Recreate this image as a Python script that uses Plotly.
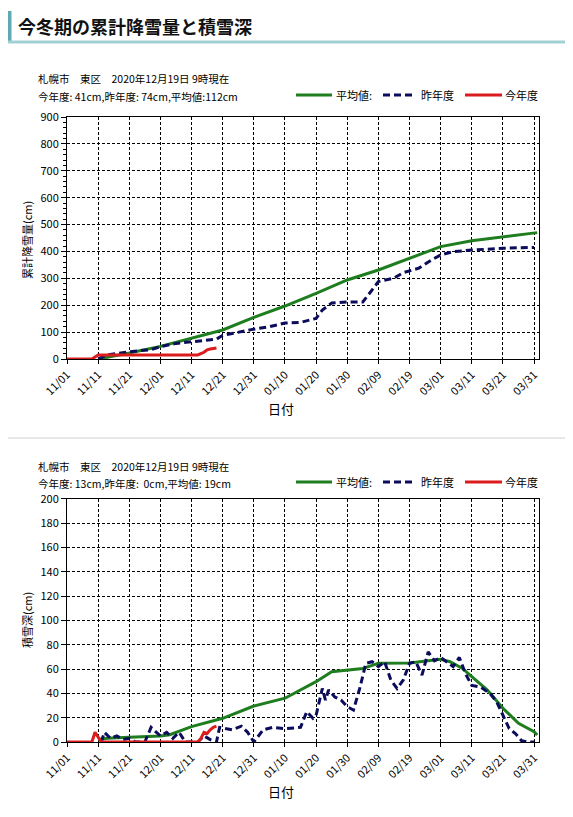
import plotly.graph_objects as go

W, H = 573, 817
OFF = 8  # ページ本体の余白ぶんを補正
FONT = "Noto Sans CJK JP"

# 累計降雪量 (cm)
avg_snowfall_dates = ["2020-11-11", "2020-11-21", "2020-12-01", "2020-12-11", "2020-12-21",
                      "2020-12-31", "2021-01-10", "2021-01-20", "2021-01-30", "2021-02-09",
                      "2021-02-19", "2021-03-01", "2021-03-11", "2021-03-21", "2021-03-31",
                      "2021-04-01"]
avg_snowfall = [0, 22, 47, 78, 108, 155, 197, 244, 294, 331, 375, 418, 440, 455, 470, 470]

last_snowfall_dates = ["2020-11-11", "2020-11-14", "2020-11-21", "2020-11-28", "2020-12-01",
                       "2020-12-06", "2020-12-11", "2020-12-16", "2020-12-19", "2020-12-21",
                       "2020-12-26", "2020-12-31", "2021-01-05", "2021-01-10", "2021-01-15",
                       "2021-01-20", "2021-01-22", "2021-01-25", "2021-01-30", "2021-02-04",
                       "2021-02-07", "2021-02-09", "2021-02-14", "2021-02-17", "2021-02-22",
                       "2021-02-26", "2021-03-01", "2021-03-05", "2021-03-11", "2021-03-21",
                       "2021-03-31"]
last_snowfall = [0, 15, 27, 35, 46, 58, 64, 70, 74, 88, 100, 111, 120, 134, 136, 151, 182, 208,
                 212, 212, 257, 288, 301, 321, 338, 368, 387, 399, 405, 412, 415]

this_snowfall_dates = ["2020-11-01", "2020-11-09", "2020-11-11", "2020-12-13", "2020-12-15",
                       "2020-12-16", "2020-12-17", "2020-12-19"]
this_snowfall = [0, 0, 15, 15, 25, 34, 37, 41]

# 積雪深 (cm)
avg_depth_dates = ["2020-11-11", "2020-11-14", "2020-11-21", "2020-12-01", "2020-12-04",
                   "2020-12-11", "2020-12-21", "2020-12-31", "2021-01-10", "2021-01-20",
                   "2021-01-25", "2021-01-30", "2021-02-04", "2021-02-07", "2021-02-09",
                   "2021-02-19", "2021-02-24", "2021-03-01", "2021-03-04", "2021-03-08",
                   "2021-03-11", "2021-03-16", "2021-03-21", "2021-03-26", "2021-03-31",
                   "2021-04-01"]
avg_depth = [2, 3, 4, 5, 6, 12.6, 19.5, 29.6, 36, 49.6, 57.8, 59, 60.5, 63, 64.7, 65, 66.8,
             68, 66, 60.5, 53.7, 42.7, 27.7, 15.3, 8.5, 5.7]

last_depth_dates = ["2020-11-12", "2020-11-13", "2020-11-15", "2020-11-17", "2020-11-19",
                    "2020-11-21", "2020-11-23", "2020-11-26", "2020-11-28", "2020-12-01",
                    "2020-12-03", "2020-12-05", "2020-12-07", "2020-12-09", "2020-12-13",
                    "2020-12-15", "2020-12-17", "2020-12-19", "2020-12-20", "2020-12-24",
                    "2020-12-27", "2020-12-29", "2020-12-31", "2021-01-03", "2021-01-06",
                    "2021-01-10", "2021-01-15", "2021-01-17", "2021-01-19", "2021-01-20",
                    "2021-01-22", "2021-01-23", "2021-01-24", "2021-01-26", "2021-01-28",
                    "2021-01-30", "2021-02-01", "2021-02-03", "2021-02-05", "2021-02-07",
                    "2021-02-09", "2021-02-11", "2021-02-13", "2021-02-15", "2021-02-17",
                    "2021-02-19", "2021-02-21", "2021-02-23", "2021-02-25", "2021-02-27",
                    "2021-03-01", "2021-03-03", "2021-03-05", "2021-03-07", "2021-03-09",
                    "2021-03-11", "2021-03-14", "2021-03-17", "2021-03-19", "2021-03-21",
                    "2021-03-23", "2021-03-25", "2021-03-27", "2021-03-29", "2021-03-31"]
last_depth = [0, 8, 3, 5, 2, 3, 0, 0, 12, 5, 8, 3, 8, 0, 0, 5, 2, 0, 12, 10, 13, 8, 0, 10, 12,
              11, 12, 25, 19.5, 22, 44, 34.5, 42.7, 37, 34.5, 29, 26.3, 44, 64.7, 66, 62, 66,
              51, 44, 51, 64.7, 66, 55, 74, 66.8, 69.5, 66, 62, 69.5, 56, 46.5, 45, 39.5, 33,
              22, 11, 7, 1, 0, 0]

this_depth_dates = ["2020-11-01", "2020-11-09", "2020-11-10", "2020-11-12", "2020-12-13",
                    "2020-12-14", "2020-12-15", "2020-12-16", "2020-12-17", "2020-12-18",
                    "2020-12-19"]
this_depth = [0, 0, 8, 0, 0, 3, 8, 7, 10, 12, 13]

GREEN = "#1e7d1e"
NAVY = "#0c0c5c"
RED = "#dc1c1c"
DASH = "7px,4px"

X_RANGE = ["2020-11-01", "2021-04-01 14:00"]
DAY_MS = 86400000


def px_x(x):
    return (x - OFF) / W


def px_y(y):
    return 1 - (y - OFF) / H


fig = go.Figure()

# 上段: 累計降雪量
fig.add_trace(go.Scatter(x=avg_snowfall_dates, y=avg_snowfall, mode="lines",
                         line=dict(color=GREEN, width=3), xaxis="x", yaxis="y"))
fig.add_trace(go.Scatter(x=last_snowfall_dates, y=last_snowfall, mode="lines",
                         line=dict(color=NAVY, width=3, dash=DASH), xaxis="x", yaxis="y"))
fig.add_trace(go.Scatter(x=this_snowfall_dates, y=this_snowfall, mode="lines",
                         line=dict(color=RED, width=3), xaxis="x", yaxis="y"))

# 下段: 積雪深
fig.add_trace(go.Scatter(x=avg_depth_dates, y=avg_depth, mode="lines",
                         line=dict(color=GREEN, width=3), xaxis="x2", yaxis="y2"))
fig.add_trace(go.Scatter(x=last_depth_dates, y=last_depth, mode="lines",
                         line=dict(color=NAVY, width=3, dash=DASH), xaxis="x2", yaxis="y2"))
fig.add_trace(go.Scatter(x=this_depth_dates, y=this_depth, mode="lines",
                         line=dict(color=RED, width=3), xaxis="x2", yaxis="y2"))

xaxis_common = dict(
    type="date",
    range=X_RANGE,
    tick0="2020-11-01",
    dtick=10 * DAY_MS,
    tickformat="%m/%d",
    tickangle=-45,
    automargin=False,
    showgrid=True,
    gridcolor="black",
    griddash="3px,2px",
    gridwidth=1,
    showline=True,
    linecolor="black",
    linewidth=1,
    mirror=True,
    ticks="outside",
    ticklen=4,
    tickcolor="black",
    tickfont=dict(size=11, color="black", family=FONT),
    domain=[px_x(67), px_x(539)],
)
yaxis_common = dict(
    automargin=False,
    showgrid=True,
    gridcolor="black",
    griddash="3px,2px",
    gridwidth=1,
    zeroline=False,
    showline=True,
    linecolor="black",
    linewidth=1,
    mirror=True,
    ticks="outside",
    ticklen=5,
    tickcolor="black",
    tickfont=dict(size=11, color="black", family=FONT),
)

fig.update_layout(
    width=W,
    height=H,
    margin=dict(l=0, r=0, t=0, b=0, autoexpand=False),
    paper_bgcolor="white",
    plot_bgcolor="white",
    showlegend=False,
    font=dict(family=FONT, color="black"),
    xaxis=dict(xaxis_common, anchor="y"),
    yaxis=dict(yaxis_common, range=[0, 900], dtick=100,
               minor=dict(dtick=20, ticks="outside", ticklen=3, tickcolor="black", showgrid=False),
               domain=[px_y(359), px_y(117)], anchor="x"),
    xaxis2=dict(xaxis_common, anchor="y2"),
    yaxis2=dict(yaxis_common, range=[0, 200], dtick=20,
                domain=[px_y(742), px_y(498.7)], anchor="x2"),
)

shapes = [
    # 見出しの装飾
    dict(type="rect", xref="paper", yref="paper", x0=px_x(7), x1=px_x(11.5),
         y0=px_y(41), y1=px_y(11), fillcolor="#5fa9b4", line=dict(width=0)),
    dict(type="rect", xref="paper", yref="paper", x0=px_x(7), x1=1,
         y0=px_y(43.5), y1=px_y(40.5), fillcolor="#a3d0d5", line=dict(width=0)),
    # 区切り線
    dict(type="line", xref="paper", yref="paper", x0=px_x(7), x1=1,
         y0=px_y(438), y1=px_y(438), line=dict(color="#d0d0d0", width=1)),
]

annotations = [
    dict(text="<b>今冬期の累計降雪量と積雪深</b>", x=px_x(16), y=px_y(26), xanchor="left",
         yanchor="middle", font=dict(size=18, color="#111111")),
]


def add_panel(info_line1, info_line2, top_y, ytitle, ytitle_y, xtitle_y):
    annotations.append(dict(text=info_line1, x=px_x(36), y=px_y(top_y), xanchor="left",
                            yanchor="middle", font=dict(size=10.5)))
    annotations.append(dict(text=info_line2, x=px_x(36), y=px_y(top_y + 17), xanchor="left",
                            yanchor="middle", font=dict(size=10.5)))
    ly = px_y(top_y + 16)
    # 凡例
    shapes.append(dict(type="line", xref="paper", yref="paper", x0=px_x(296), x1=px_x(332),
                       y0=ly, y1=ly, line=dict(color=GREEN, width=3)))
    shapes.append(dict(type="line", xref="paper", yref="paper", x0=px_x(383), x1=px_x(415),
                       y0=ly, y1=ly, line=dict(color=NAVY, width=3, dash=DASH)))
    shapes.append(dict(type="line", xref="paper", yref="paper", x0=px_x(465), x1=px_x(502),
                       y0=ly, y1=ly, line=dict(color=RED, width=3)))
    for label, x in [("平均値:", 334), ("昨年度", 419), ("今年度", 503)]:
        annotations.append(dict(text=label, x=px_x(x), y=ly, xanchor="left", yanchor="middle",
                                font=dict(size=11)))
    annotations.append(dict(text=ytitle, x=px_x(27), y=px_y(ytitle_y), textangle=-90,
                            xanchor="center", yanchor="middle", font=dict(size=11)))
    annotations.append(dict(text="日付", x=px_x(281), y=px_y(xtitle_y), xanchor="center",
                            yanchor="middle", font=dict(size=13)))


add_panel("札幌市　東区　2020年12月19日 9時現在", "今年度: 41cm,昨年度: 74cm,平均値:112cm",
          79, "累計降雪量(cm)", 240, 408)
add_panel("札幌市　東区　2020年12月19日 9時現在", "今年度: 13cm,昨年度:  0cm,平均値: 19cm",
          466, "積雪深(cm)", 620, 791)

for a in annotations:
    a.update(xref="paper", yref="paper", showarrow=False)

fig.update_layout(shapes=shapes, annotations=annotations)

fig.write_html("out.html")
